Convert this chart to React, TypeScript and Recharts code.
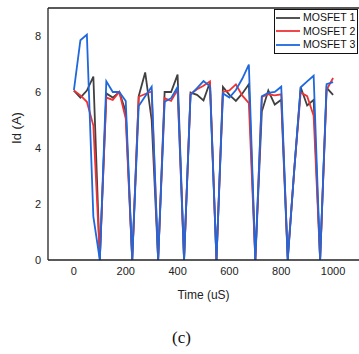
import { LineChart, Line, XAxis, YAxis, Legend, ReferenceLine } from 'recharts';

// time axis, sampled every 25 uS
const timeUs = [
  0, 25, 50, 75, 100, 125, 150, 175, 200, 225,
  250, 275, 300, 325, 350, 375, 400, 425, 450, 475,
  500, 525, 550, 575, 600, 625, 650, 675, 700, 725,
  750, 775, 800, 825, 850, 875, 900, 925, 950, 975, 1000,
];

const mosfet1 = [
  6.05, 5.8, 6.05, 6.55, 0, 5.95, 5.8, 6.0, 5.3, 0,
  5.85, 6.7, 5.0, 0, 6.0, 6.0, 6.62, 0, 5.98, 5.9,
  5.7, 6.35, 0, 6.18, 5.9, 5.68, 5.95, 6.28, 0, 5.3,
  6.05, 5.55, 5.72, 0, 3.2, 6.17, 5.52, 5.72, 0, 6.15, 5.9,
];

const mosfet2 = [
  6.05, 5.88, 5.65, 4.8, 0.1, 5.8, 5.72, 6.0, 5.05, 0,
  5.83, 5.93, 6.02, 0, 5.78, 5.68, 6.08, 0, 5.93, 6.1,
  6.22, 6.38, 0, 6.0, 6.06, 6.27, 5.87, 5.6, 0, 5.82,
  5.92, 5.88, 5.92, 0.1, 3.2, 5.98, 5.85, 5.15, 0, 6.08, 6.5,
];

const mosfet3 = [
  6.07, 7.85, 8.05, 1.55, 0, 6.38, 6.0, 6.0, 5.68, 0,
  5.5, 5.85, 6.19, 0, 5.65, 5.78, 6.18, 0, 5.9, 6.14,
  6.39, 6.2, 0, 5.95, 5.8, 6.07, 6.48, 6.98, 0, 5.85,
  5.97, 6.0, 6.19, 0, 3.2, 6.17, 6.38, 6.58, 0, 6.28, 6.35,
];

const xTicks = [0, 200, 400, 600, 800, 1000];
const yTicks = [0, 2, 4, 6, 8];

const data = timeUs.map((t, i) => ({
  t,
  m1: mosfet1[i],
  m2: mosfet2[i],
  m3: mosfet3[i],
}));

const FONT = '"Liberation Sans", Arial, sans-serif';
const AXIS = '#222';

function LegendBox(props: any) {
  const { payload } = props;
  return (
    <div
      style={{
        border: '1.3px solid #111',
        background: '#fff',
        width: 82,
        padding: '1px 0',
        fontFamily: FONT,
        fontSize: 10.5,
        color: '#111',
        lineHeight: '13.5px',
      }}
    >
      {payload.map((p: any) => (
        <div key={p.value} style={{ display: 'flex', alignItems: 'center', height: 13.5 }}>
          <svg width={27} height={6} style={{ marginLeft: 1 }}>
            <line x1={0} y1={3} x2={24} y2={3} stroke={p.color} strokeWidth={1.8} />
          </svg>
          <span>{p.value}</span>
        </div>
      ))}
    </div>
  );
}

export default function App() {
  return (
    <div style={{ position: 'absolute', left: 0, top: 0, width: 359, height: 354, background: '#fff' }}>
      <LineChart
        width={359}
        height={310}
        data={data}
        margin={{ top: 8, right: 0, bottom: 0, left: 0 }}
      >
        <XAxis
          dataKey="t"
          type="number"
          domain={[-100, 1100]}
          ticks={xTicks}
          tickSize={0}
          tickMargin={7}
          height={50}
          stroke={AXIS}
          strokeWidth={1.3}
          tick={{ fill: AXIS, fontSize: 11, fontFamily: FONT }}
          label={{ value: 'Time (uS)', position: 'insideBottom', offset: 11, fill: AXIS, fontSize: 12, fontFamily: FONT }}
        />
        <YAxis
          type="number"
          domain={[0, 9]}
          ticks={yTicks}
          tickSize={0}
          tickMargin={7}
          width={48}
          stroke={AXIS}
          strokeWidth={1.3}
          tick={{ fill: AXIS, fontSize: 11, fontFamily: FONT }}
          label={{
            content: () => (
              <text
                x={16}
                y={128}
                transform="rotate(-90 16 128)"
                textAnchor="middle"
                dominantBaseline="central"
                fill={AXIS}
                fontSize={13}
                fontFamily={FONT}
              >
                Id (A)
              </text>
            ),
          }}
        />
        <ReferenceLine y={9} stroke={AXIS} strokeWidth={1.3} />
        <Legend
          layout="vertical"
          verticalAlign="middle"
          align="center"
          content={<LegendBox />}
          wrapperStyle={{ position: 'absolute', left: 274, top: 9, width: 84 }}
        />
        <Line type="linear" dataKey="m1" name="MOSFET 1" stroke="#404040" strokeWidth={1.8} dot={false} isAnimationActive={false} />
        <Line type="linear" dataKey="m2" name="MOSFET 2" stroke="#ee3336" strokeWidth={1.8} dot={false} isAnimationActive={false} />
        <Line type="linear" dataKey="m3" name="MOSFET 3" stroke="#1f67dd" strokeWidth={1.8} dot={false} isAnimationActive={false} />
      </LineChart>
      <div
        style={{
          position: 'absolute',
          left: 0,
          width: 363,
          top: 328,
          textAlign: 'center',
          fontFamily: '"Liberation Serif", "Times New Roman", serif',
          fontSize: 17,
          color: '#111',
        }}
      >
        (c)
      </div>
    </div>
  );
}
